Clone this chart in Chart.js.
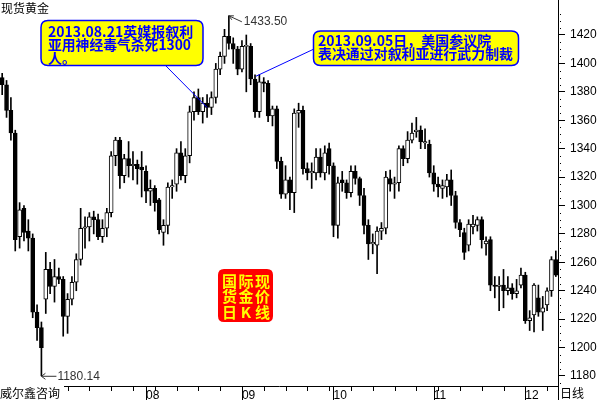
<!DOCTYPE html>
<html>
<head>
<meta charset="utf-8">
<script src="https://cdn.jsdelivr.net/npm/chart.js@4.4.1/dist/chart.umd.min.js"></script>
<style>
html, body { margin: 0; padding: 0; background: #fff; }
canvas { display: block; }
</style>
</head>
<body>
<canvas id="kChart" width="600" height="400"></canvas>
<script>
// trading days (2013), Jun 17 .. Dec 11
var dates = [
  '06-17','06-18','06-19','06-20','06-21','06-24','06-25','06-26','06-27','06-28',
  '07-01','07-02','07-03','07-04','07-05','07-08','07-09','07-10','07-11','07-12','07-15','07-16','07-17','07-18','07-19','07-22','07-23','07-24','07-25','07-26','07-29','07-30','07-31',
  '08-01','08-02','08-05','08-06','08-07','08-08','08-09','08-12','08-13','08-14','08-15','08-16','08-19','08-20','08-21','08-22','08-23','08-26','08-27','08-28','08-29','08-30',
  '09-02','09-03','09-04','09-05','09-06','09-09','09-10','09-11','09-12','09-13','09-16','09-17','09-18','09-19','09-20','09-23','09-24','09-25','09-26','09-27','09-30',
  '10-01','10-02','10-03','10-04','10-07','10-08','10-09','10-10','10-11','10-14','10-15','10-16','10-17','10-18','10-21','10-22','10-23','10-24','10-25','10-28','10-29','10-30','10-31',
  '11-01','11-04','11-05','11-06','11-07','11-08','11-11','11-12','11-13','11-14','11-15','11-18','11-19','11-20','11-21','11-22','11-25','11-26','11-27','11-28','11-29',
  '12-02','12-03','12-04','12-05','12-06','12-09','12-10','12-11'
];

var opens = [
  1390,1385,1367,1351,1278,1298,1282,1277,1225,1214,
  1234,1255,1243,1250,1248,1222,1234,1246,1262,1284,1285,1292,1290,1278,1284,1295,1335,1346,1321,1333,1328,1329,1327,
  1324,1310,1312,1304,1281,1286,1313,1315,1337,1321,1335,1366,1376,1366,1372,1369,1376,1396,1405,1419,1414,1410,
  1396,1412,1412,1389,1366,1387,1386,1363,1368,1331,1308,1318,1309,1365,1367,1326,1323,1323,1334,1323,1340,
  1328,1286,1318,1316,1309,1324,1319,1307,1286,1273,1272,1282,1284,1319,1315,1316,1340,1333,1346,1352,1353,1344,1343,
  1323,1315,1312,1313,1318,1307,1288,1281,1272,1285,1286,1290,1273,1276,1244,1243,1244,1240,1242,1238,1244,
  1251,1219,1223,1235,1225,1230,1240,1262
];
var highs = [
  1393,1388,1376,1353,1302,1300,1290,1280,1230,1218,
  1267,1260,1262,1256,1250,1238,1250,1266,1298,1292,1295,1296,1294,1290,1298,1338,1348,1348,1336,1345,1338,1332,1338,
  1328,1318,1314,1305,1290,1316,1318,1340,1345,1340,1370,1380,1382,1376,1378,1380,1400,1408,1424,1433.5,1418,1412,
  1416,1420,1414,1392,1392,1390,1388,1370,1370,1334,1328,1320,1368,1372,1370,1330,1330,1340,1340,1342,1344,
  1330,1320,1324,1318,1328,1328,1320,1312,1290,1280,1285,1288,1324,1325,1320,1342,1342,1352,1358,1362,1356,1354,1346,
  1328,1320,1318,1322,1325,1310,1290,1284,1290,1293,1292,1292,1278,1278,1250,1250,1255,1250,1245,1248,1256,
  1253,1226,1245,1244,1236,1242,1264,1268
];
var lows = [
  1378,1362,1346,1268,1270,1275,1268,1221,1205,1180.14,
  1224,1238,1232,1245,1208,1210,1230,1240,1258,1270,1275,1280,1276,1274,1278,1292,1328,1312,1316,1320,1318,1315,1306,
  1302,1300,1296,1280,1272,1280,1305,1310,1318,1316,1330,1360,1364,1358,1362,1364,1372,1392,1400,1410,1400,1392,
  1394,1380,1385,1362,1362,1380,1359,1356,1326,1305,1305,1297,1295,1355,1322,1318,1312,1318,1320,1318,1322,
  1278,1277,1310,1305,1306,1315,1300,1280,1262,1266,1252,1276,1280,1310,1305,1310,1328,1330,1344,1348,1340,1340,1320,
  1310,1306,1305,1306,1300,1284,1278,1262,1268,1280,1282,1270,1265,1240,1235,1226,1228,1237,1234,1235,1242,
  1217,1212,1211,1222,1212,1226,1236,1250
];
var closes = [
  1385,1367,1351,1276,1297,1281,1277,1225,1214,1200,
  1255,1243,1250,1248,1222,1234,1246,1262,1284,1285,1292,1290,1278,1284,1295,1335,1346,1321,1333,1328,1329,1326,1325,
  1310,1312,1302,1283,1286,1313,1314,1337,1321,1335,1366,1376,1366,1372,1369,1376,1396,1405,1419,1414,1410,1396,
  1412,1412,1389,1366,1387,1386,1363,1368,1331,1308,1318,1309,1365,1367,1326,1323,1324,1334,1323,1337,1328,
  1286,1316,1316,1309,1324,1319,1307,1286,1273,1274,1282,1284,1320,1315,1316,1340,1333,1346,1351,1353,1345,1345,1323,
  1315,1313,1314,1318,1307,1288,1283,1267,1287,1287,1290,1276,1275,1244,1243,1244,1240,1242,1238,1240,1251,
  1219,1221,1244,1225,1228,1240,1262,1251
];

var yLabels = [1180, 1200, 1220, 1240, 1260, 1280, 1300, 1320, 1340, 1360, 1380, 1400, 1420];

var monthLabels = dates.map(function (d, i) {
  return (i > 0 && d.slice(0, 2) !== dates[i - 1].slice(0, 2)) ? d.slice(0, 2) : '';
});

var bodies = opens.map(function (o, i) { return [Math.min(o, closes[i]), Math.max(o, closes[i])]; });
var wicks = lows.map(function (l, i) { return [l, highs[i]]; });
var bodyFill = opens.map(function (o, i) { return closes[i] >= o ? '#ffffff' : '#000000'; });

function roundRect(c, x, y, w, h, r) {
  c.beginPath();
  c.moveTo(x + r, y);
  c.lineTo(x + w - r, y);
  c.quadraticCurveTo(x + w, y, x + w, y + r);
  c.lineTo(x + w, y + h - r);
  c.quadraticCurveTo(x + w, y + h, x + w - r, y + h);
  c.lineTo(x + r, y + h);
  c.quadraticCurveTo(x, y + h, x, y + h - r);
  c.lineTo(x, y + r);
  c.quadraticCurveTo(x, y, x + r, y);
  c.closePath();
}

var overlay = {
  id: 'overlay',
  afterDraw: function (chart) {
    var c = chart.ctx, a = chart.chartArea, xs = chart.scales.x, ys = chart.scales.y;
    c.save();
    c.strokeStyle = '#000';
    c.lineWidth = 1;

    // x axis: month separators and monday ticks
    c.beginPath();
    dates.forEach(function (d, i) {
      var x = Math.round(xs.getPixelForValue(i)) + 0.5;
      var day = new Date('2013-' + d + 'T00:00:00Z').getUTCDay();
      if (monthLabels[i]) {
        c.moveTo(x, a.bottom); c.lineTo(x, 400);
      } else if (day === 1) {
        c.moveTo(x, a.bottom); c.lineTo(x, a.bottom + 5);
      }
    });
    // right axis continues down
    c.moveTo(Math.round(a.right) + 0.5, a.bottom);
    c.lineTo(Math.round(a.right) + 0.5, 400);
    c.stroke();

    // minor dots on price axis
    c.fillStyle = '#000';
    for (var v = 1175; v <= 1440; v += 5) {
      if (v % 20 === 0) continue;
      c.fillRect(Math.round(a.right) + 2, Math.round(ys.getPixelForValue(v)), 1, 1);
    }

    // titles (bottom-left one sits on a white patch over the axis)
    c.fillStyle = '#fff';
    c.fillRect(0, a.bottom - 1, 64, 400 - a.bottom + 1);
    c.fillStyle = '#000';
    c.font = '12px "Noto Sans CJK SC"';
    c.textBaseline = 'middle';
    c.textAlign = 'left';
    c.fillText('现货黄金', 1, 8);
    c.fillText('威尔鑫咨询', 0, 393);
    c.fillText('日线', 560, 393);

    // high / low labels
    var hi = highs.indexOf(Math.max.apply(null, highs));
    var lo = lows.indexOf(Math.min.apply(null, lows));
    var hx = xs.getPixelForValue(hi), hy = ys.getPixelForValue(highs[hi]);
    var lx = xs.getPixelForValue(lo), ly = ys.getPixelForValue(lows[lo]);
    c.strokeStyle = '#333';
    c.beginPath();
    c.moveTo(hx, hy); c.lineTo(hx + 13, hy + 6);
    c.moveTo(hx, hy); c.lineTo(hx + 5, hy);
    c.moveTo(hx, hy); c.lineTo(hx + 3, hy + 4);
    c.moveTo(lx, ly + 0.5); c.lineTo(lx + 15, ly + 0.5);
    c.moveTo(lx, ly + 0.5); c.lineTo(lx + 4, ly - 2.5);
    c.moveTo(lx, ly + 0.5); c.lineTo(lx + 4, ly + 3.5);
    c.stroke();
    c.fillStyle = '#333';
    c.font = '12px "Liberation Sans"';
    c.fillText(highs[hi].toFixed(2), hx + 15, hy + 6);
    c.fillText(lows[lo].toFixed(2), lx + 16, ly + 1);

    // news callouts
    c.strokeStyle = '#0000ff';
    c.lineWidth = 1;
    c.beginPath();
    c.moveTo(165, 65); c.lineTo(xs.getPixelForValue(47), ys.getPixelForValue(closes[47]));
    c.moveTo(314, 49); c.lineTo(xs.getPixelForValue(58) + 1, ys.getPixelForValue(1391));
    c.stroke();

    c.lineWidth = 1.5;
    roundRect(c, 41, 20.5, 162, 45, 7);
    c.fillStyle = '#ffff00'; c.fill(); c.stroke();
    roundRect(c, 313.5, 31, 205, 34.5, 7);
    c.fill(); c.stroke();

    c.fillStyle = '#0000ff';
    c.font = 'bold 14px "Noto Sans CJK SC"';
    c.fillText('2013.08.21英媒报叙利', 48, 32, 149);
    c.fillText('亚用神经毒气杀死1300', 48, 45, 143);
    c.fillText('人。', 48, 58);
    c.fillText('2013.09.05日，美国参议院', 318, 41, 177);
    c.fillText('表决通过对叙利亚进行武力制裁', 318, 54, 195);

    // red label box
    roundRect(c, 218, 269, 55, 53, 6);
    c.fillStyle = '#ff0000'; c.fill();
    c.fillStyle = '#ffff00';
    c.font = 'bold 15px "Noto Sans CJK SC"';
    c.textAlign = 'center';
    [['国', '际', '现'], ['货', '金', '价'], ['日', 'K', '线']].forEach(function (row, r) {
      row.forEach(function (ch, k) {
        c.fillText(ch, 229.5 + k * 16.5, 281 + r * 15.5);
      });
    });
    c.restore();
  }
};

var ctx = document.getElementById('kChart').getContext('2d');

var chart = new Chart(ctx, {
  type: 'bar',
  data: {
    labels: dates,
    datasets: [{
      // candle bodies: hollow up, solid down
      data: bodies,
      backgroundColor: bodyFill,
      borderColor: '#000',
      borderWidth: 1,
      borderSkipped: false,
      barThickness: 4,
      minBarLength: 1,
      grouped: false,
      order: 0
    }, {
      // high-low wicks
      data: wicks,
      backgroundColor: '#000',
      borderWidth: 0,
      barThickness: 1,
      grouped: false,
      order: 1
    }]
  },
  plugins: [overlay],
  options: {
    responsive: false,
    animation: false,
    devicePixelRatio: 1,
    layout: { padding: 0 },
    plugins: { legend: { display: false }, tooltip: { enabled: false } },
    scales: {
      x: {
        offset: true,
        grid: { display: false, drawTicks: false },
        border: { display: true, color: '#000' },
        ticks: {
          autoSkip: false,
          maxRotation: 0,
          align: 'start',
          padding: 2,
          color: '#000',
          font: { family: 'Liberation Sans', size: 12 },
          callback: function (v, i) { return monthLabels[i]; }
        },
        afterFit: function (s) { s.height = 14; s.paddingLeft = 0; s.paddingRight = 0; }
      },
      y: {
        position: 'right',
        min: 1172.95,
        max: 1444.63,
        afterBuildTicks: function (s) {
          s.ticks = yLabels.map(function (v) { return { value: v }; });
        },
        grid: { drawOnChartArea: false, tickLength: 7, color: '#000' },
        border: { display: true, color: '#000' },
        ticks: {
          padding: 5,
          color: '#000',
          font: { family: 'Liberation Sans', size: 12 },
          callback: function (v) { return v; }
        },
        afterFit: function (s) { s.width = 42; s.paddingTop = 0; s.paddingBottom = 0; }
      }
    }
  }
});
</script>
</body>
</html>
